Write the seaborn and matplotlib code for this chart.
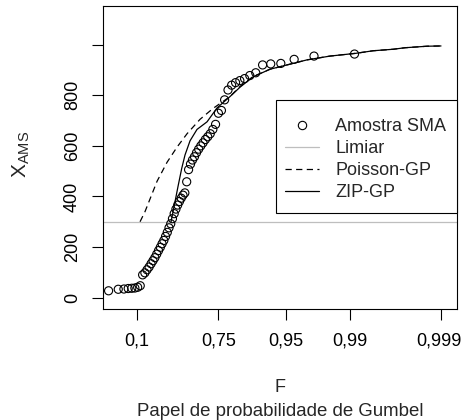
import numpy as np
import pandas as pd
import matplotlib
matplotlib.use("Agg")
import matplotlib.pyplot as plt
import matplotlib.transforms as mtransforms
import seaborn as sns
from matplotlib.lines import Line2D
from matplotlib.patches import Rectangle

# ---------------- data ----------------
sample_F = [0.0090, 0.0251, 0.0412, 0.0573, 0.0734, 0.0895, 0.1056, 0.1217,
            0.1378, 0.1539, 0.1700, 0.1861, 0.2022, 0.2183, 0.2344, 0.2505,
            0.2666, 0.2827, 0.2988, 0.3149, 0.3310, 0.3471, 0.3632, 0.3793,
            0.3954, 0.4115, 0.4276, 0.4437, 0.4598, 0.4759, 0.4920, 0.5081,
            0.5242, 0.5403, 0.5564, 0.5725, 0.5886, 0.6047, 0.6208, 0.6369,
            0.6530, 0.6691, 0.6852, 0.7013, 0.7174, 0.7335, 0.7496, 0.7657,
            0.7818, 0.7979, 0.8140, 0.8301, 0.8462, 0.8623, 0.8784, 0.8945,
            0.9106, 0.9267, 0.9428, 0.9589, 0.9750, 0.9910]
sample_x = [27, 33, 34, 36, 37, 38, 41, 47, 90, 98, 110, 121, 134, 146, 158,
            172, 186, 199, 213, 226, 242, 258, 276, 292, 312, 332, 350, 366,
            380, 393, 405, 414, 458, 506, 528, 544, 557, 573, 587, 600, 612,
            625, 636, 648, 665, 685, 729, 740, 782, 821, 840, 850, 858, 866,
            878, 889, 920, 924, 926, 942, 955, 963]

pgp_F = [0.1204, 0.1549, 0.1936, 0.2534, 0.3447, 0.4378, 0.5273, 0.6313,
         0.7186, 0.8070, 0.8468, 0.8875, 0.9254, 0.9509, 0.9702, 0.9833,
         0.99135, 0.99438, 0.99663, 0.99751, 0.99858, 0.9990]
pgp_x = [300, 340, 390, 460, 535, 595, 648, 705, 748, 795, 835, 874, 903,
         920, 940, 955, 966, 976, 982, 988, 994, 995]

zip_F = [0.3822, 0.4010, 0.4197, 0.4471, 0.4805, 0.5097, 0.5526, 0.6084,
         0.6805, 0.7420, 0.8070, 0.8468, 0.8875, 0.9254, 0.9509, 0.9702,
         0.9833, 0.99135, 0.99438, 0.99663, 0.99751, 0.99858, 0.9990]
zip_x = [300, 340, 380, 440, 511, 564, 620, 665, 695, 750, 795, 832, 873,
         903, 920, 940, 955, 966, 976, 982, 988, 994, 995]

threshold = 300
tick_F = [0.1, 0.75, 0.95, 0.99, 0.999]
tick_F_labels = ["0,1", "0,75", "0,95", "0,99", "0,999"]
y_ticks = [0, 200, 400, 600, 800, 1000]
y_tick_labels = ["0", "200", "400", "600", "800", ""]
legend_labels = ["Amostra SMA", "Limiar", "Poisson-GP", "ZIP-GP"]


def gumbel(F):
    return -np.log(-np.log(np.asarray(F, dtype=float)))


sample_df = pd.DataFrame({"u": gumbel(sample_F), "x": sample_x})
pgp_df = pd.DataFrame({"u": gumbel(pgp_F), "x": pgp_x})
zip_df = pd.DataFrame({"u": gumbel(zip_F), "x": zip_x})

# ---------------- style ----------------
sns.set_style("ticks")
plt.rcParams["font.family"] = ["Liberation Sans", "DejaVu Sans"]
plt.rcParams["mathtext.fontset"] = "custom"
plt.rcParams["mathtext.rm"] = "Liberation Sans"
plt.rcParams["mathtext.it"] = "Liberation Sans"

W, H = 462, 420
fig = plt.figure(figsize=(W / 100, H / 100), dpi=100)
ax = fig.add_axes([103 / W, 1 - 309 / H, (457 - 103) / W, (309 - 6) / H])

lw = 0.9
ax.axhline(threshold, color="#BEBEBE", lw=lw, zorder=1)
sns.lineplot(data=pgp_df, x="u", y="x", ax=ax, color="black", lw=lw,
             sort=False, estimator=None, zorder=2)
ax.lines[-1].set_dashes((5, 3.5))
sns.lineplot(data=zip_df, x="u", y="x", ax=ax, color="black", lw=lw,
             sort=False, estimator=None, zorder=2)
sns.scatterplot(data=sample_df, x="u", y="x", ax=ax, marker="o", s=34,
                facecolor="none", edgecolor="black", linewidth=0.8, zorder=3)

ax.set_xlim(-1.692, 7.314)
ax.set_ylim(-45, 1153)
ax.set_xticks(gumbel(tick_F))
ax.set_xticklabels(tick_F_labels)
ax.set_yticks(y_ticks)
ax.set_yticklabels(y_tick_labels)
ax.set_xlabel("")
ax.set_ylabel("")
for sp in ax.spines.values():
    sp.set_visible(True)
    sp.set_linewidth(0.8)
    sp.set_color("black")
ax.tick_params(axis="both", direction="out", length=8, width=0.8,
               color="black", labelsize=13, labelcolor="black")
ax.tick_params(axis="x", pad=9)
ax.tick_params(axis="y", pad=8, labelrotation=90)
for lab in ax.get_yticklabels():
    lab.set_va("center")
# nudge the last x tick label slightly left so it stays inside the figure
last = ax.get_xticklabels()[-1]
last.set_transform(last.get_transform() +
                   mtransforms.ScaledTranslation(-2 / 100, 0, fig.dpi_scale_trans))

fig.text(21 / W, 1 - 154 / H, r"$\mathrm{X}_{\mathrm{AMS}}$", rotation=90,
         ha="center", va="center", fontsize=15)
fig.text(280 / W, 1 - 388 / H, "F", ha="center", va="center", fontsize=13)
fig.text(280 / W, 1 - 411 / H, "Papel de probabilidade de Gumbel",
         ha="center", va="center", fontsize=13.4)

# legend box (R style: tight sides, roomy top/bottom)
bx0, bx1 = (276 - 103) / 354, 1.0
by0, by1 = (309 - 213) / 303, (309 - 100) / 303
ax.add_patch(Rectangle((bx0, by0), bx1 - bx0, by1 - by0, transform=ax.transAxes,
                       facecolor="white", edgecolor="black", lw=0.8, zorder=5,
                       clip_on=False))
handles = [
    Line2D([], [], marker="o", ls="none", mfc="none", mec="black", ms=6, mew=0.8),
    Line2D([], [], color="#BEBEBE", lw=lw),
    Line2D([], [], color="black", lw=lw, dashes=(5, 3.5)),
    Line2D([], [], color="black", lw=lw),
]
leg = ax.legend(handles, legend_labels, loc="center",
                bbox_to_anchor=((bx0 + bx1) / 2 - 1 / 354, (by0 + by1) / 2 - 3 / 303),
                borderaxespad=0, frameon=False, fontsize=13, handlelength=1.9,
                handletextpad=0.9, labelspacing=0.28, borderpad=0.0)
leg.set_zorder(6)

fig.savefig("out.png", dpi=100)
